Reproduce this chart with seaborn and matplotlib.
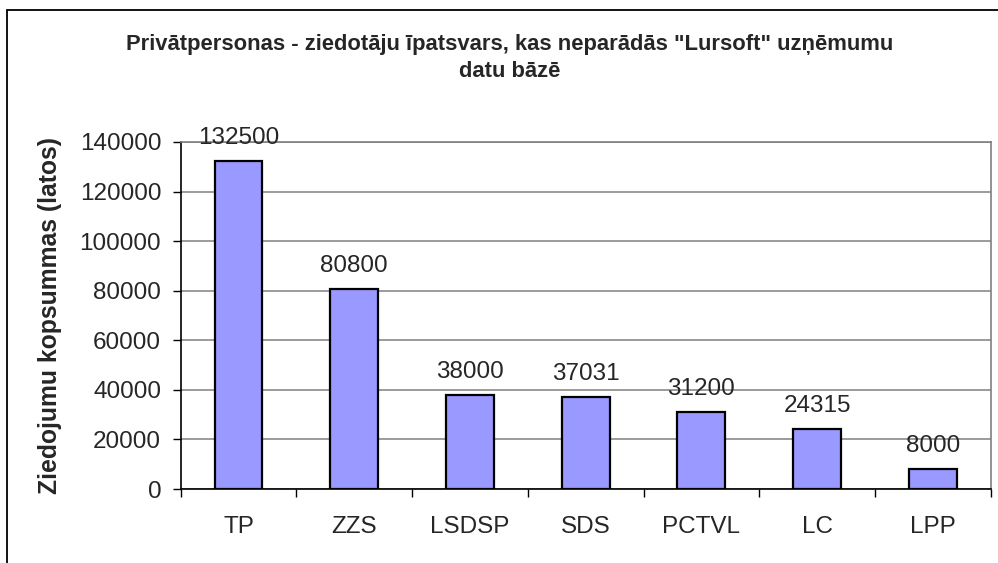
import numpy as np
import matplotlib
matplotlib.use('Agg')
import matplotlib.pyplot as plt
import seaborn as sns
from matplotlib.patches import Rectangle
from matplotlib.ticker import FixedLocator

# chart data
parties = ['TP', 'ZZS', 'LSDSP', 'SDS', 'PCTVL', 'LC', 'LPP']
donations = [132500, 80800, 38000, 37031, 31200, 24315, 8000]
y_ticks = [0, 20000, 40000, 60000, 80000, 100000, 120000, 140000]

title = 'Privātpersonas - ziedotāju īpatsvars, kas neparādās "Lursoft" uzņēmumu\ndatu bāzē'
y_label = 'Ziedojumu kopsummas (latos)'

sns.set_style('white')
plt.rcParams['font.family'] = ['Liberation Sans', 'DejaVu Sans']

fig = plt.figure(figsize=(9.98, 5.63), dpi=100)
ax = fig.add_axes([0.181, 0.1314, 0.8117, 0.6164])

sns.barplot(x=parties, y=donations, color='#9999FF', saturation=1,
            edgecolor='black', linewidth=1.6, width=0.414, ax=ax)

ax.set_xlim(-0.5, len(parties) - 0.5)
ax.set_ylim(0, 140000)
ax.set_yticks(y_ticks)
ax.set_yticklabels([str(v) for v in y_ticks])
ax.yaxis.grid(True, color='#808080', linewidth=1.1)
ax.set_axisbelow(True)

# category ticks between bars, labels at centres
ax.xaxis.set_minor_locator(FixedLocator(np.arange(-0.5, len(parties), 1.0)))
ax.tick_params(axis='x', which='major', length=0, pad=19.5, labelsize=17.5)
ax.tick_params(axis='x', which='minor', length=6, width=1, color='black', direction='out')
ax.tick_params(axis='y', length=6, width=1, color='black', direction='out', pad=8, labelsize=17.5)
ax.tick_params(bottom=True, left=True, which='both')

for side in ['top', 'right']:
    ax.spines[side].set_color('#808080')
    ax.spines[side].set_linewidth(1.2)
for side in ['left', 'bottom']:
    ax.spines[side].set_color('black')
    ax.spines[side].set_linewidth(1.2)

ax.set_ylabel(y_label, fontsize=17.8, fontweight='bold', labelpad=13)
ax.set_xlabel('')

ax.bar_label(ax.containers[0], labels=[str(v) for v in donations],
             padding=8.5, fontsize=17.5)

fig.text(0.511, 1 - 58 / 563, title, ha='center', va='center',
         fontsize=15.8, fontweight='bold', linespacing=1.32)

# outer chart frame (cropped on the right and bottom)
fig.patches.append(Rectangle((7 / 998, -0.2), 1.2, 0.2 + 553 / 563,
                             transform=fig.transFigure, fill=False,
                             edgecolor='black', linewidth=1.3))

fig.savefig('out.png', dpi=100)
